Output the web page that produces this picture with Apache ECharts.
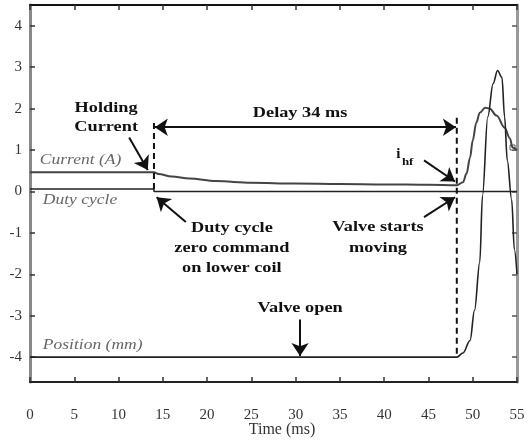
<!DOCTYPE html>
<html>
<head>
<meta charset="utf-8">
<script src="https://cdn.jsdelivr.net/npm/echarts@6/dist/echarts.min.js"></script>
<style>html,body{margin:0;padding:0;background:#fff}#c{width:528px;height:440px}</style>
</head>
<body>
<div id="c"></div>
<script>
// ---- data ----
const xTicks = [0,5,10,15,20,25,30,35,40,45,50,55];
const yTicks = [-4,-3,-2,-1,0,1,2,3,4];

const currentT = [0,14,14.5,16,18,21,25,30,35,40,45,48.2,48.9,49.3,49.7,50.0,50.4,50.8,51.4,51.9,52.7,53.6,54.2,54.5,55];
const currentV = [0.46,0.46,0.42,0.36,0.31,0.25,0.21,0.19,0.18,0.17,0.16,0.15,0.22,0.43,0.82,1.23,1.66,1.9,2.02,2.0,1.83,1.54,1.28,1.06,0.99];

const dutyT = [0,14,14,55];
const dutyV = [0.06,0.06,0,0];

const positionT = [0,48.2,48.9,49.7,50.2,50.8,51.1,51.7,52.3,52.8,53.3,53.6,53.9,54.4,54.7,55];
const positionV = [-4,-4,-3.9,-3.6,-2.87,-1.7,-0.1,1.8,2.6,2.92,2.75,1.8,0.75,-0.2,-1.4,-2.0];

const markerT = [54.5];
const markerV = [1.06];

const dash1T = [14,14];   const dash1V = [1.65,0];
const dash2T = [48.2,48.2]; const dash2V = [1.78,-4];

// arrows: [fromT, fromV, toT, toV, doubleHeaded]
const arrows = [
  [11.2,1.30,13.3,0.52,false],
  [14.1,1.55,48.1,1.55,true],
  [17.6,-0.74,14.3,-0.14,false],
  [44.5,-0.62,48.0,-0.14,false],
  [44.5,0.75,48.0,0.24,false],
  [30.5,-3.09,30.5,-3.97,false]
];

// annotation texts (bold, centered)
const boldNotes = [
  [8.6,2.01,'Holding'],
  [8.6,1.55,'Current'],
  [30.5,1.89,'Delay 34 ms'],
  [22.8,-0.89,'Duty cycle'],
  [22.8,-1.37,'zero command'],
  [22.8,-1.85,'on lower coil'],
  [39.3,-0.86,'Valve starts'],
  [39.3,-1.37,'moving'],
  [30.5,-2.82,'Valve open']
];
// italic series labels (left aligned)
const italicNotes = [
  [1.1,0.76,'Current (A)'],
  [1.45,-0.21,'Duty cycle'],
  [1.45,-3.71,'Position (mm)']
];

const zip = (a,b) => a.map((v,i)=>[v,b[i]]);

const chart = echarts.init(document.getElementById('c'), null, {renderer:'canvas'});
const serif = 'Liberation Serif';

const option = {
  animation:false,
  backgroundColor:'#fff',
  grid:{left:30,right:11,top:5,bottom:58,containLabel:false,outerBoundsMode:'none'},
  xAxis:[
    {type:'value',min:0,max:55,interval:5,position:'bottom',
     axisLine:{onZero:false,lineStyle:{color:'#222',width:2}},
     axisTick:{inside:true,length:5,lineStyle:{color:'#333',width:1.5}},
     axisLabel:{margin:26,color:'#333',fontFamily:serif,fontSize:15},
     splitLine:{show:false},
     name:'Time (ms)',nameLocation:'middle',nameGap:40,nameMoveOverlap:false,
     nameTextStyle:{fontFamily:serif,fontSize:16,color:'#333',padding:[0,0,0,17]}},
    {type:'value',min:0,max:55,interval:5,position:'top',
     axisLine:{onZero:false,lineStyle:{color:'#111',width:2}},
     axisTick:{inside:true,length:5,lineStyle:{color:'#333',width:1.5}},
     axisLabel:{show:false},splitLine:{show:false}}
  ],
  yAxis:[
    {type:'value',min:-4.6,max:4.5,position:'left',
     axisLine:{show:true,onZero:false,lineStyle:{color:'#888',width:3}},
     axisTick:{show:true,inside:true,length:5,customValues:yTicks,lineStyle:{color:'#333',width:1.5}},
     axisLabel:{customValues:yTicks,margin:8,color:'#333',fontFamily:serif,fontSize:15},
     splitLine:{show:false}},
    {type:'value',min:-4.6,max:4.5,position:'right',
     axisLine:{show:true,onZero:false,lineStyle:{color:'#999',width:3}},
     axisTick:{show:true,inside:true,length:5,customValues:yTicks,lineStyle:{color:'#555',width:1.5}},
     axisLabel:{show:false},splitLine:{show:false}}
  ],
  series:[
    {type:'line',name:'Current',data:zip(currentT,currentV),showSymbol:false,smooth:0.35,smoothMonotone:'x',
     lineStyle:{color:'#444',width:2}},
    {type:'line',name:'Duty',data:zip(dutyT,dutyV),showSymbol:false,
     lineStyle:{color:'#222',width:1.5},
     markLine:{silent:true,symbolSize:13,label:{show:false},
       lineStyle:{color:'#111',width:2,type:'solid'},
       data:arrows.map(a=>[{coord:[a[0],a[1]],symbol:a[4]?'arrow':'none'},{coord:[a[2],a[3]],symbol:'arrow'}])}},
    {type:'line',name:'Position',data:zip(positionT,positionV),showSymbol:false,smooth:0.35,smoothMonotone:'x',
     lineStyle:{color:'#222',width:1.6}},
    {type:'line',name:'d1',data:zip(dash1T,dash1V),showSymbol:false,lineStyle:{color:'#111',width:2,type:[6,4]}},
    {type:'line',name:'d2',data:zip(dash2T,dash2V),showSymbol:false,lineStyle:{color:'#111',width:2,type:[6,4]}},
    {type:'scatter',name:'m',data:zip(markerT,markerV),symbol:'rect',symbolSize:5,
     itemStyle:{color:'#fff',borderColor:'#333',borderWidth:1}}
  ]
};
chart.setOption(option);

const px = (t,v) => chart.convertToPixel({seriesIndex:0},[t,v]);
const graphics = [];
boldNotes.forEach(n=>{
  const p = px(n[0],n[1]);
  graphics.push({type:'text',x:p[0],y:p[1],scaleX:1.22,silent:true,
    style:{text:n[2],fill:'#111',font:'bold 15px "Liberation Serif"',textAlign:'center',textVerticalAlign:'middle'}});
});
italicNotes.forEach(n=>{
  const p = px(n[0],n[1]);
  graphics.push({type:'text',x:p[0],y:p[1],scaleX:1.25,silent:true,
    style:{text:n[2],fill:'#666',font:'italic 14px "Liberation Serif"',textAlign:'left',textVerticalAlign:'middle'}});
});
// i_hf label
const pi = px(41.6,0.90);
graphics.push({type:'text',x:pi[0],y:pi[1],silent:true,
  style:{text:'i',fill:'#111',font:'bold 15px "Liberation Serif"',textAlign:'center',textVerticalAlign:'middle'}});
const ps = px(42.0,0.71);
graphics.push({type:'text',x:ps[0],y:ps[1],scaleX:1.3,silent:true,
  style:{text:'hf',fill:'#111',font:'bold 10px "Liberation Serif"',textAlign:'left',textVerticalAlign:'middle'}});
chart.setOption({graphic:graphics});
</script>
</body>
</html>
